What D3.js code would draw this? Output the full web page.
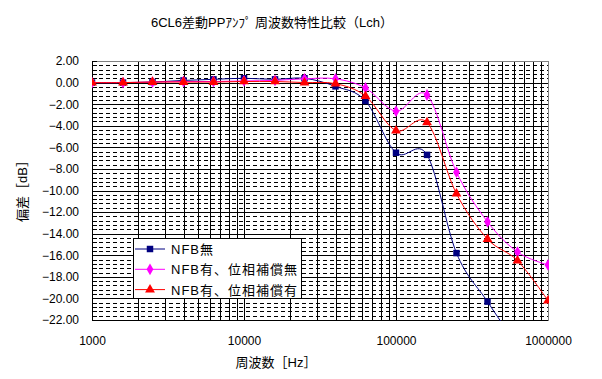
<!DOCTYPE html>
<html><head><meta charset="utf-8">
<script src="https://cdn.jsdelivr.net/npm/d3@7"></script>
<style>
body{margin:0;background:#fff;}
text{font-family:"Liberation Sans",Arial,"Noto Sans CJK JP",sans-serif;fill:#000;}
</style></head>
<body><svg id="c" width="602" height="379"></svg>
<script>
const freqs = [1000,1600,2500,4000,6300,10000,16000,25000,40000,63000,100000,160000,250000,400000,630000,1000000];
const nfbNone = [0.0,0.0,0.05,0.2,0.3,0.4,0.3,0.4,-0.35,-1.7,-6.5,-6.7,-15.8,-20.3,-24.4,-28.5];
const nfbNoComp = [0.0,0.0,0.05,0.1,0.1,0.15,0.2,0.35,0.35,-0.5,-2.65,-1.15,-8.3,-12.9,-15.7,-16.9];
const nfbComp = [0.0,0.0,0.05,0.05,0.05,0.1,0.1,0.0,-0.1,-1.25,-4.45,-3.7,-10.3,-14.5,-16.5,-20.2];
const seriesNames = ["NFB無","NFB有、位相補償無","NFB有、位相補償有"];
const yTicks = [2,0,-2,-4,-6,-8,-10,-12,-14,-16,-18,-20,-22];
const xTicks = [1000,10000,100000,1000000];
const title = "6CL6差動PPｱﾝﾌﾟ 周波数特性比較（Lch）";
const xTitle = "周波数［Hz］";
const yTitle = "偏差［dB］";

const svg = d3.select("#c");
const L=92,R=548,T=61,B=320;
const x = d3.scaleLog().domain([1000,1e6]).range([L,R]);
const y = d3.scaleLinear().domain([-22,2]).range([B,T]);

svg.append("rect").attr("width",602).attr("height",379).attr("fill","#fff");
svg.append("text").attr("x",272).attr("y",27).attr("text-anchor","middle").attr("font-size",13).text(title);

const g = svg.append("g");
// minor dashed horizontal grid
const minorY = d3.range(-22,2.001,0.4).filter(v=>Math.abs(Math.round(v/2)*2-v)>0.01);
g.selectAll(".hm").data(minorY).enter().append("line")
 .attr("x1",L).attr("x2",R).attr("y1",d=>Math.round(y(d))+0.5).attr("y2",d=>Math.round(y(d))+0.5)
 .attr("stroke","#000").attr("stroke-dasharray","4,3");
// vertical grid
const vx=[];
for(let e=3;e<6;e++){for(let m=1;m<10;m++){vx.push(m*Math.pow(10,e));}}
vx.push(1e6);
g.selectAll(".v").data(vx).enter().append("line")
 .attr("x1",d=>Math.round(x(d))+0.5).attr("x2",d=>Math.round(x(d))+0.5).attr("y1",T).attr("y2",B)
 .attr("stroke","#000");
// major horizontal
g.selectAll(".hM").data(yTicks).enter().append("line")
 .attr("x1",L).attr("x2",R).attr("y1",d=>Math.round(y(d))+0.5).attr("y2",d=>Math.round(y(d))+0.5)
 .attr("stroke","#000");
// plot border
svg.append("rect").attr("x",L+0.5).attr("y",T+0.5).attr("width",R-L).attr("height",B-T)
 .attr("fill","none").attr("stroke","#808080");
svg.append("line").attr("x1",L+0.5).attr("x2",L+0.5).attr("y1",T).attr("y2",B).attr("stroke","#000");
svg.append("line").attr("x1",L).attr("x2",R).attr("y1",B+0.5).attr("y2",B+0.5).attr("stroke","#000");

// y axis
const ya = d3.axisLeft(y).tickValues(yTicks).tickFormat(d3.format(".2f")).tickSize(0).tickPadding(13);
const yg = svg.append("g").attr("transform",`translate(${L},0)`).call(ya);
yg.select(".domain").remove();
yg.selectAll("text").attr("font-size",12).attr("font-family","Liberation Sans,Arial");
// minor y ticks
svg.selectAll(".yt").data(d3.range(-22,2.001,0.4)).enter().append("line")
 .attr("x1",L).attr("x2",L+5).attr("y1",d=>Math.round(y(d))+0.5).attr("y2",d=>Math.round(y(d))+0.5).attr("stroke","#000");
// x axis
const xa = d3.axisBottom(x).tickValues(xTicks).tickFormat(d3.format("d")).tickSize(0).tickPadding(16);
const xg = svg.append("g").attr("transform",`translate(0,${B})`).call(xa);
xg.select(".domain").remove();
xg.selectAll("text").attr("font-size",12).attr("font-family","Liberation Sans,Arial");

svg.append("text").attr("x",276).attr("y",367).attr("text-anchor","middle").attr("font-size",13).text(xTitle);
svg.append("text").attr("transform","translate(27,188) rotate(-90)").attr("text-anchor","middle").attr("font-size",13).text(yTitle);

// clip
svg.append("clipPath").attr("id","clp").append("rect").attr("x",L).attr("y",T).attr("width",R-L+1).attr("height",B-T+1);

const series = [
 {name:seriesNames[0],vals:nfbNone,color:"#000080",shape:d3.symbolSquare,size:42},
 {name:seriesNames[1],vals:nfbNoComp,color:"#FF00FF",shape:d3.symbolDiamond,size:40},
 {name:seriesNames[2],vals:nfbComp,color:"#FF0000",shape:d3.symbolTriangle,size:42}
];
const line = d3.line().x(d=>x(d[0])).y(d=>y(d[1])).curve(d3.curveCatmullRom.alpha(0));
const pg = svg.append("g").attr("clip-path","url(#clp)");
series.forEach(s=>{
  const pts = freqs.map((f,i)=>[f,s.vals[i]]);
  pg.append("path").attr("d",line(pts)).attr("fill","none").attr("stroke",s.color).attr("stroke-width",1);
  pg.selectAll(null).data(pts).enter().append("path")
   .attr("d",d3.symbol().type(s.shape).size(s.size))
   .attr("transform",d=>`translate(${x(d[0])},${y(d[1])})`).attr("fill",s.color);
});

// legend
const lg = svg.append("g");
lg.append("rect").attr("x",133.5).attr("y",238.5).attr("width",168).attr("height",60).attr("fill","#fff").attr("stroke","#000");
series.forEach((s,i)=>{
  const yy = 249+i*20.3;
  lg.append("line").attr("x1",135).attr("x2",165).attr("y1",yy).attr("y2",yy).attr("stroke",s.color);
  lg.append("path").attr("d",d3.symbol().type(s.shape).size(s.size)).attr("transform",`translate(150,${yy})`).attr("fill",s.color);
  lg.append("text").attr("x",171).attr("y",yy+5).attr("font-size",13).attr("letter-spacing",1).text(s.name);
});
</script></body></html>
